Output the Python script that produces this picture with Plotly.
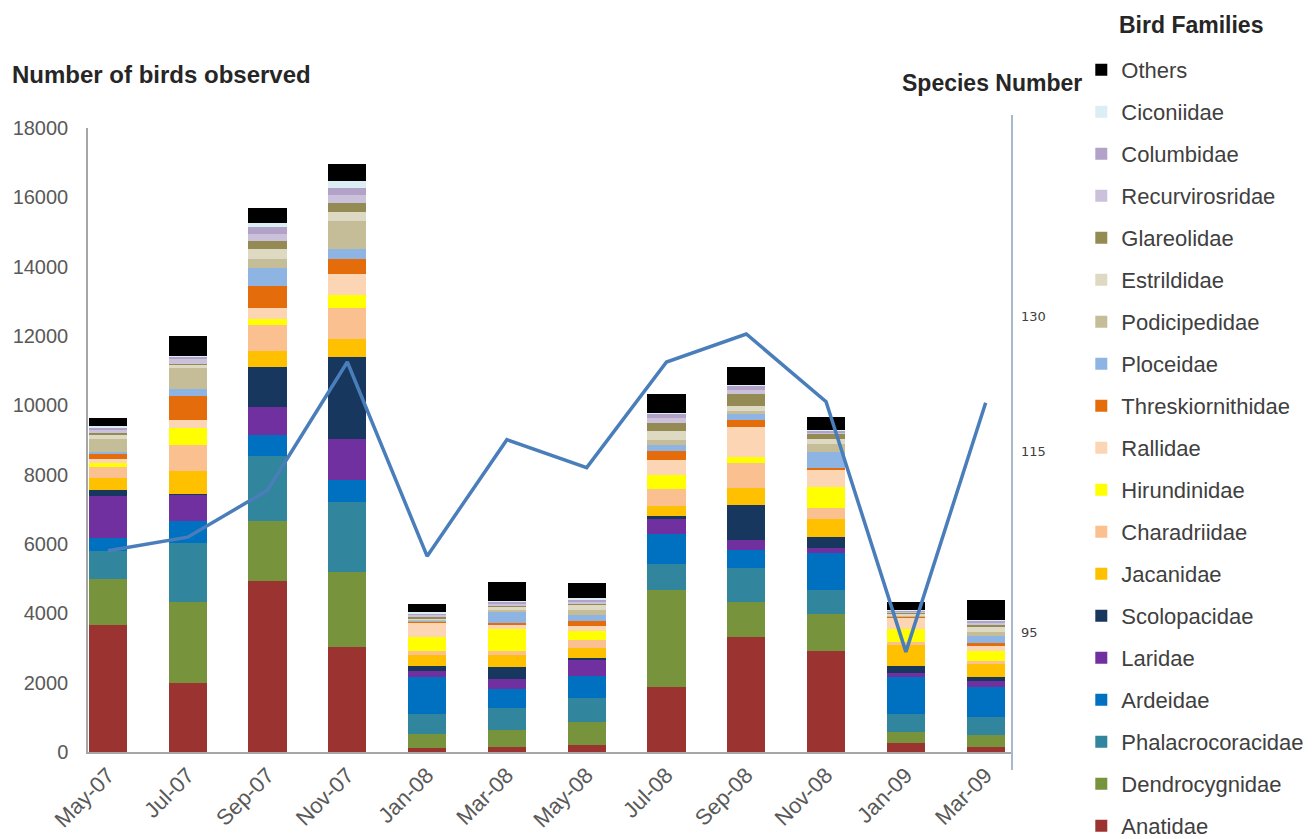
import plotly.graph_objects as go

# Miesiące obserwacji
months = ["May-07", "Jul-07", "Sep-07", "Nov-07", "Jan-08", "Mar-08",
          "May-08", "Jul-08", "Sep-08", "Nov-08", "Jan-09", "Mar-09"]

# Liczebność ptaków wg rodzin (od dołu słupka)
anatidae = [3650, 1990, 4930, 3030, 125, 150, 200, 1870, 3330, 2910, 250, 135]
dendrocygnidae = [1345, 2335, 1720, 2170, 385, 480, 670, 2790, 990, 1060, 335, 355]
phalacrocoracidae = [815, 1700, 1900, 2010, 585, 625, 675, 770, 980, 700, 510, 530]
ardeidae = [365, 635, 590, 625, 1075, 550, 645, 865, 530, 1060, 1060, 865]
laridae = [1200, 760, 820, 1195, 165, 290, 480, 450, 290, 145, 135, 175]
scolopacidae = [190, 20, 1140, 2350, 145, 365, 30, 50, 1010, 335, 190, 95]
jacanidae = [325, 655, 470, 525, 320, 335, 290, 290, 480, 510, 605, 385]
charadriidae = [335, 770, 760, 895, 115, 115, 240, 500, 720, 325, 95, 95]
hirundinidae = [125, 480, 170, 370, 410, 625, 270, 415, 190, 605, 355, 290]
rallidae = [115, 240, 300, 615, 400, 150, 145, 415, 865, 480, 345, 135]
threskiornithidae = [145, 690, 630, 445, 20, 30, 145, 280, 195, 65, 20, 95]
ploceidae = [50, 190, 520, 280, 60, 310, 165, 175, 165, 460, 20, 195]
podicipedidae = [365, 605, 280, 815, 20, 80, 150, 125, 95, 240, 30, 120]
estrildidae = [115, 95, 280, 245, 20, 90, 140, 260, 155, 145, 40, 150]
glareolidae = [75, 30, 220, 280, 60, 20, 30, 240, 325, 145, 20, 45]
recurvirosridae = [75, 165, 225, 210, 50, 60, 65, 140, 130, 45, 40, 60]
columbidae = [70, 50, 190, 200, 50, 55, 70, 130, 120, 50, 40, 65]
ciconiidae = [30, 10, 110, 200, 30, 20, 20, 20, 20, 20, 20, 20]
others = [240, 575, 430, 500, 230, 540, 440, 550, 520, 355, 220, 575]

# Liczba gatunków (oś prawa)
species_number = [104, 105.5, 110.7, 124.9, 103.4, 116.3, 113.2, 124.9, 128, 120.5, 92.8, 120.4]

families = [
    ("Anatidae", anatidae, "#9B3431"),
    ("Dendrocygnidae", dendrocygnidae, "#77933C"),
    ("Phalacrocoracidae", phalacrocoracidae, "#31859C"),
    ("Ardeidae", ardeidae, "#0070C0"),
    ("Laridae", laridae, "#7030A0"),
    ("Scolopacidae", scolopacidae, "#17375E"),
    ("Jacanidae", jacanidae, "#FFC000"),
    ("Charadriidae", charadriidae, "#FAC090"),
    ("Hirundinidae", hirundinidae, "#FFFF00"),
    ("Rallidae", rallidae, "#FCD5B5"),
    ("Threskiornithidae", threskiornithidae, "#E46C0A"),
    ("Ploceidae", ploceidae, "#8EB4E3"),
    ("Podicipedidae", podicipedidae, "#C4BD97"),
    ("Estrildidae", estrildidae, "#DDD9C3"),
    ("Glareolidae", glareolidae, "#948A54"),
    ("Recurvirosridae", recurvirosridae, "#CCC1DA"),
    ("Columbidae", columbidae, "#B3A2C7"),
    ("Ciconiidae", ciconiidae, "#DBEEF4"),
    ("Others", others, "#000000"),
]

FONT = "Liberation Sans, Arial, sans-serif"

fig = go.Figure()

for i, (name, vals, color) in enumerate(families):
    fig.add_trace(go.Bar(
        x=months, y=vals, name=name, legendgroup=name,
        legendrank=100 - i,
        marker=dict(color=color, line=dict(width=0)),
    ))

# Linia liczby gatunków
fig.add_trace(go.Scatter(
    x=months, y=species_number, yaxis="y2", mode="lines",
    line=dict(color="#4A7EBB", width=3.5), showlegend=False,
    name="Species Number",
))

fig.update_layout(
    width=1313, height=839,
    margin=dict(l=80, r=309, t=120, b=95),
    barmode="stack", bargap=0.52,
    plot_bgcolor="white", paper_bgcolor="white",
    font=dict(family=FONT, color="#595959"),
    xaxis=dict(
        type="category", range=[-0.25, 11.33], automargin=False,
        showline=True, linecolor="#A6A6A6", linewidth=1.5,
        ticks="", tickangle=-45, tickfont=dict(size=22, color="#595959"),
        showgrid=False,
    ),
    yaxis=dict(
        range=[0, 18000], tickvals=list(range(0, 18001, 2000)), tickformat="d",
        showline=True, linecolor="#A6A6A6", linewidth=1.5, automargin=False,
        ticks="", showgrid=False, zeroline=False, ticklabelstandoff=14,
        tickfont=dict(size=20, color="#595959"),
    ),
    yaxis2=dict(
        overlaying="y", side="right", range=[81.71, 150.82], automargin=False,
        tickvals=[95, 115, 130], showgrid=False, zeroline=False,
        showline=False, ticks="", ticklabelstandoff=8,
        tickfont=dict(size=13, color="#404040", family="DejaVu Sans"),
    ),
    legend=dict(
        x=1.075, y=1.125, xanchor="left", yanchor="top",
        traceorder="grouped", tracegroupgap=10.4, maxheight=1000,
        font=dict(size=22, color="#404040", family=FONT),
        bgcolor="rgba(0,0,0,0)",
    ),
    shapes=[dict(
        type="line", xref="paper", yref="paper",
        x0=1.0, x1=1.0, y0=-0.029, y1=1.021,
        line=dict(color="#A6B8CC", width=2),
    )],
    annotations=[
        dict(text="Number of birds observed", xref="paper", yref="paper",
             x=-0.0844, y=1.085, xanchor="left", yanchor="middle", showarrow=False,
             font=dict(size=24, color="#262626", family=FONT, weight="bold")),
        dict(text="Species Number", xref="paper", yref="paper",
             x=0.8788, y=1.072, xanchor="left", yanchor="middle", showarrow=False,
             font=dict(size=23, color="#262626", family=FONT, weight="bold")),
        dict(text="Bird Families", xref="paper", yref="paper",
             x=1.1136, y=1.165, xanchor="left", yanchor="middle", showarrow=False,
             font=dict(size=23, color="#262626", family=FONT, weight="bold")),
    ],
)

fig.write_html("out.html")
